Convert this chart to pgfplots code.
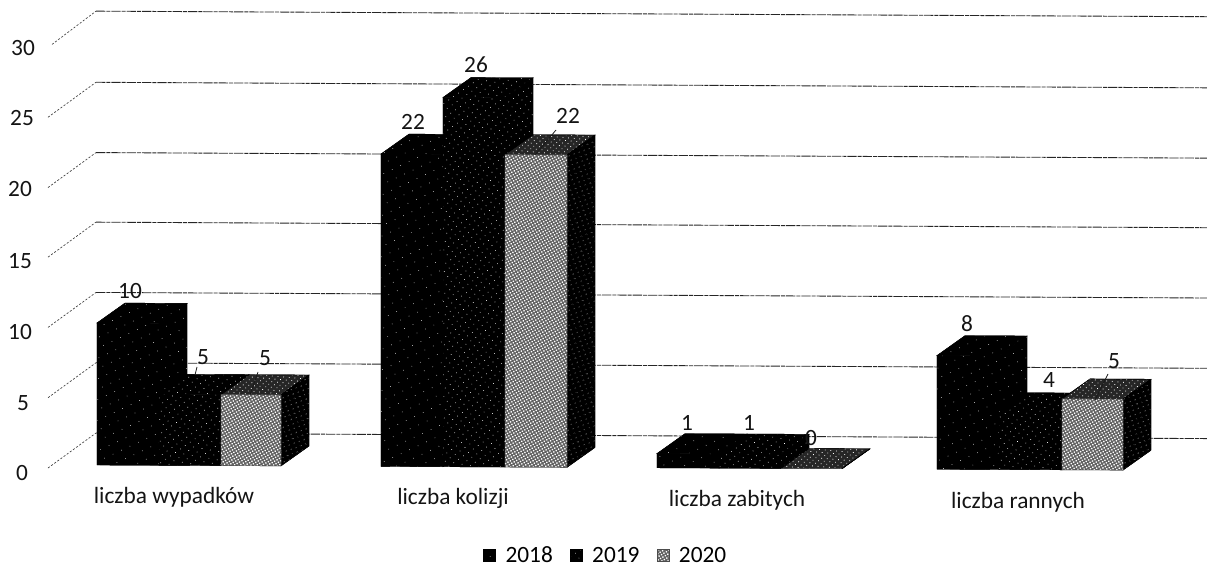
\documentclass[border=0pt]{standalone}
\usepackage{pgfplots}
\pgfplotsset{compat=1.18}
\usepackage{fontspec}
\setmainfont{Carlito}
\usetikzlibrary{patterns,patterns.meta}
\def\u{0.75pt}
% speckled faces of the scanned chart
\tikzset{
 blackface/.style={draw=black,line width=.3pt,fill=black,postaction={pattern={Dots[distance=7pt,radius=.3pt,angle=25,xshift=1pt]},pattern color=white}},
 darkface/.style={draw=black,line width=.3pt,fill=black,postaction={pattern={Dots[distance=4.5pt,radius=.34pt,angle=35]},pattern color=white}},
 sideface/.style={draw=black,line width=.3pt,fill=black,postaction={pattern={Dots[distance=4pt,radius=.36pt,angle=20]},pattern color=white}},
 topface/.style={draw=black,line width=.3pt,fill=black!85,postaction={pattern={Dots[distance=3pt,radius=.42pt,angle=40]},pattern color=white}},
 lightface/.style={draw=black!70,line width=.3pt,fill=black!62,postaction={pattern={Dots[distance=2.1pt,radius=.72pt,angle=30]},pattern color=white}},
 grid line/.style={black!85,line width=.65pt,dash pattern=on 7pt off .8pt on 3pt off .7pt},
 diag line/.style={black!75,line width=.5pt,dash pattern=on 1.6pt off 1.3pt},
 lead/.style={black!90,line width=.55pt},
 lab/.style={font=\fontsize{17.5}{20}\selectfont,inner sep=0pt,text=black!92},
}
% \barbox{x left}{x right}{value}{front}{top}{side}
\newcommand\barbox[6]{%
 \pgfmathsetmacro\xa{#1}\pgfmathsetmacro\xb{#2}\pgfmathsetmacro\vv{#3}%
 \pgfmathsetmacro\xc{#1+28}\pgfmathsetmacro\xd{#2+28}\pgfmathsetmacro\vt{#3+1.41}%
 \addplot[#5,forget plot] coordinates {(\xa,\vv)(\xb,\vv)(\xd,\vt)(\xc,\vt)} -- cycle;
 \addplot[#6,forget plot] coordinates {(\xb,0)(\xd,1.41)(\xd,\vt)(\xb,\vv)} -- cycle;
 \addplot[#4,forget plot] coordinates {(\xa,0)(\xb,0)(\xb,\vv)(\xa,\vv)} -- cycle;
}
\newcommand\px[2]{(#1*\u,{(568-#2)*\u})}
\begin{document}
\begin{tikzpicture}
\useasboundingbox (0,0) rectangle (1207*\u,568*\u);
\begin{axis}[
  at={(0pt,103.5*\u)},anchor=origin,
  x={(0.75pt,-0.00375pt)},y={(0pt,10.65pt)},
  xmin=0,xmax=1207,ymin=-7.5,ymax=33,
  hide axis,clip=false,
  legend columns=3,
  legend style={at={(axis cs:606,-6.2)},anchor=center,draw=none,fill=none,
    font=\fontsize{17.5}{20}\selectfont,inner sep=0pt,
    /tikz/every even column/.append style={column sep=10.75pt}},
  legend image code/.code={\path[#1] (0pt,-4.5pt) rectangle (9pt,4.5pt);\path (0pt,0pt) (14.5pt,0pt);},
]
% back wall gridlines and left wall
\addplot[grid line,forget plot] coordinates {(96,2.25)(1207,2.25)};
\addplot[grid line,forget plot] coordinates {(96,7.2)(1207,7.2)};
\addplot[grid line,forget plot] coordinates {(96,12.15)(1207,12.15)};
\addplot[grid line,forget plot] coordinates {(96,17.1)(1207,17.1)};
\addplot[grid line,forget plot] coordinates {(96,22)(1207,22)};
\addplot[grid line,forget plot] coordinates {(96,26.95)(1207,26.95)};
\addplot[grid line,forget plot] coordinates {(96,31.96)(1207,31.96)};
\addplot[diag line,forget plot] coordinates {(48,-0.23)(96,2.25)};
\addplot[diag line,forget plot] coordinates {(48,4.72)(96,7.2)};
\addplot[diag line,forget plot] coordinates {(48,9.67)(96,12.15)};
\addplot[diag line,forget plot] coordinates {(48,14.62)(96,17.1)};
\addplot[diag line,forget plot] coordinates {(48,19.52)(96,22)};
\addplot[diag line,forget plot] coordinates {(48,24.47)(96,26.95)};
\addplot[diag line,forget plot] coordinates {(52,29.6)(96,31.96)};
% liczba wypadkow
\barbox{97}{159}{10}{blackface}{blackface}{blackface}
\barbox{159}{221}{5}{darkface}{darkface}{darkface}
\barbox{221}{281}{5}{lightface}{topface}{sideface}
% liczba kolizji
\barbox{381}{443}{22}{blackface}{blackface}{blackface}
\barbox{443}{505}{26}{darkface}{darkface}{darkface}
\barbox{505}{567}{22}{lightface}{topface}{sideface}
% liczba zabitych
\barbox{657}{719}{1}{blackface}{blackface}{blackface}
\barbox{719}{781}{1}{darkface}{darkface}{darkface}
\barbox{781}{842}{0}{lightface}{topface}{sideface}
% liczba rannych
\barbox{937}{999}{8}{blackface}{blackface}{blackface}
\barbox{999}{1062}{4}{darkface}{darkface}{darkface}
\barbox{1062}{1123}{5}{lightface}{topface}{sideface}
\addlegendimage{blackface}\addlegendentry{2018}
\addlegendimage{darkface}\addlegendentry{2019}
\addlegendimage{lightface}\addlegendentry{2020}
\end{axis}
% y tick labels
\foreach \t/\x/\y in {0/22/473,5/23/403,10/20/332,15/20/261,20/20/189,25/22/118,30/23/48}
  \node[lab] at \px{\x}{\y} {\t};
% category labels
\node[lab] at \px{174}{497} {liczba wypadków};
\node[lab] at \px{453}{498} {liczba kolizji};
\node[lab] at \px{737}{500} {liczba zabitych};
\node[lab] at \px{1018}{502} {liczba rannych};
% value labels
\foreach \t/\x/\y in {10/130/291,5/203/357,5/265/358,22/413/122,26/476/65,22/568/116,1/687/423,1/749/423,0/811/438,8/967/324,4/1049/380,5/1114/361}
  \node[lab] at \px{\x}{\y} {\t};
% leader lines
\draw[lead] \px{197}{367} -- \px{195}{375};
\draw[lead] \px{258}{372} -- \px{250}{395};
\draw[lead] \px{556}{130} -- \px{535}{155};
\draw[lead] \px{1108}{374} -- \px{1095}{400};
\end{tikzpicture}
\end{document}
